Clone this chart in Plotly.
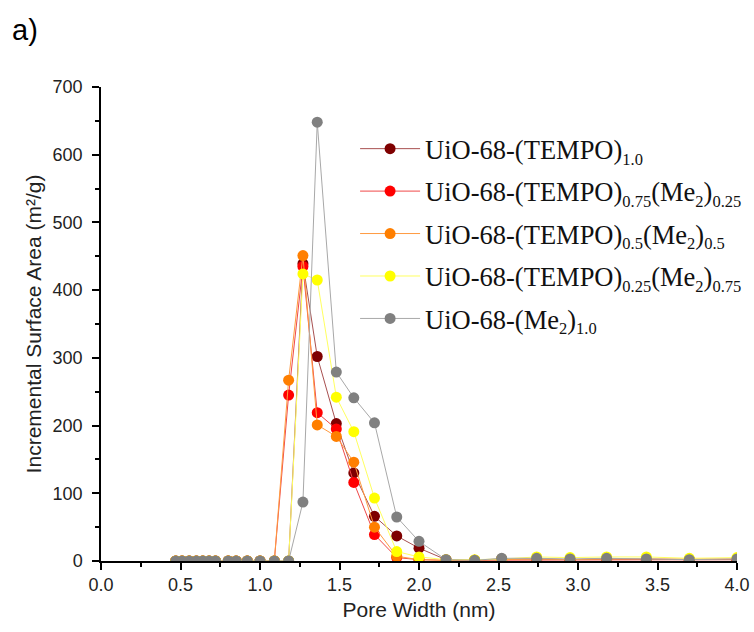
import plotly.graph_objects as go

# Pore widths (nm) of the DFT distribution
pore_width = [0.47, 0.51, 0.555, 0.60, 0.64, 0.68, 0.72, 0.80, 0.85, 0.92,
              1.00, 1.09, 1.18, 1.27, 1.36, 1.48, 1.59, 1.72, 1.86, 2.00,
              2.17, 2.35, 2.52, 2.74, 2.95, 3.18, 3.43, 3.70, 4.00]

# Incremental surface area (m2/g) for each framework
tempo_100 = [0, 0, 0, 0, 0, 0, 0, 0, 0, 0,
             0, 0, 0, 439, 302, 203, 130, 66, 37, 19,
             2, 1, 3, 3, 2, 3, 2, 2, 2]
tempo_75_me_25 = [0, 0, 0, 0, 0, 0, 0, 0, 0, 0,
                  0, 0, 245, 435, 219, 195, 116, 39, 5, 2,
                  1, 1, 2, 2, 2, 2, 2, 1, 2]
tempo_50_me_50 = [0, 0, 0, 0, 0, 0, 0, 0, 0, 0,
                  0, 0, 267, 451, 201, 184, 146, 50, 7, 2,
                  1, 1, 2, 3, 2, 3, 3, 2, 3]
tempo_25_me_75 = [0, 0, 0, 0, 0, 0, 0, 0, 0, 0,
                  0, 0, 0, 424, 415, 242, 191, 93, 14, 6,
                  2, 2, 3, 6, 5, 6, 6, 4, 5]
me_100 = [0, 0, 0, 0, 0, 0, 0, 0, 0, 0,
          0, 0, 0, 87, 648, 279, 241, 204, 65, 29,
          2, 1, 4, 4, 3, 4, 3, 2, 3]


def sub(txt):
    return "<sub><span style='font-size:16.5px'>" + txt + "</span></sub>"


series_names = [
    "UiO-68-(TEMPO)" + sub("1.0"),
    "UiO-68-(TEMPO)" + sub("0.75") + "(Me" + sub("2") + ")" + sub("0.25"),
    "UiO-68-(TEMPO)" + sub("0.5") + "(Me" + sub("2") + ")" + sub("0.5"),
    "UiO-68-(TEMPO)" + sub("0.25") + "(Me" + sub("2") + ")" + sub("0.75"),
    "UiO-68-(Me" + sub("2") + ")" + sub("1.0"),
]
series_values = [tempo_100, tempo_75_me_25, tempo_50_me_50, tempo_25_me_75, me_100]
marker_colors = ["#7f0000", "#ff0000", "#ff7f00", "#ffff00", "#808080"]
line_colors = ["#a85050", "#f04848", "#ff9a40", "#ffff60", "#a8a8a8"]

fig = go.Figure()
for i, (name, vals, mc, lc) in enumerate(zip(series_names, series_values, marker_colors, line_colors)):
    fig.add_trace(go.Scatter(
        x=pore_width, y=vals, name=name, mode="lines+markers",
        legendgroup="g%d" % i,
        line=dict(color=lc, width=1),
        marker=dict(color=mc, size=11, line=dict(width=0)),
        cliponaxis=True,
    ))

sans = "Liberation Sans, Arial, sans-serif"
tick_font = dict(family=sans, size=18, color="#222")
title_font = dict(family=sans, size=21, color="#222")

fig.update_layout(
    width=754, height=632,
    margin=dict(l=101, r=17, t=87, b=71, autoexpand=False),
    paper_bgcolor="white", plot_bgcolor="white",
    showlegend=True,
    legend=dict(
        x=0.3995, y=0.92, xanchor="left", yanchor="top",
        font=dict(family="Liberation Serif, Times New Roman, serif", size=26.5, color="#111"),
        bgcolor="rgba(0,0,0,0)", itemwidth=60,
        traceorder="grouped", tracegroupgap=5,
    ),
    xaxis=dict(
        range=[0, 4], tickvals=[0, 0.5, 1.0, 1.5, 2.0, 2.5, 3.0, 3.5, 4.0],
        ticktext=["0.0", "0.5", "1.0", "1.5", "2.0", "2.5", "3.0", "3.5", "4.0"],
        ticks="outside", ticklen=7, tickwidth=1.5, tickcolor="black",
        minor=dict(dtick=0.25, tick0=0, ticks="outside", ticklen=4, tickwidth=1.5, tickcolor="black"),
        showline=True, linecolor="black", linewidth=1.5,
        showgrid=False, zeroline=False, tickfont=tick_font,
        title=dict(text="Pore Width (nm)", font=title_font, standoff=8),
    ),
    yaxis=dict(
        range=[0, 700], tickvals=[0, 100, 200, 300, 400, 500, 600, 700],
        ticks="outside", ticklen=7, tickwidth=1.5, tickcolor="black",
        minor=dict(dtick=50, tick0=0, ticks="outside", ticklen=4, tickwidth=1.5, tickcolor="black"),
        showline=True, linecolor="black", linewidth=1.5,
        showgrid=False, zeroline=False, tickfont=tick_font, ticklabelstandoff=6,
        title=dict(text="Incremental Surface Area (m²/g)", font=title_font, standoff=5),
    ),
    annotations=[dict(
        text="a)", xref="paper", yref="paper", x=-0.143, y=1.12,
        xanchor="left", yanchor="middle", showarrow=False,
        font=dict(family=sans, size=29, color="black"),
    )],
)

fig.write_html("out.html")
